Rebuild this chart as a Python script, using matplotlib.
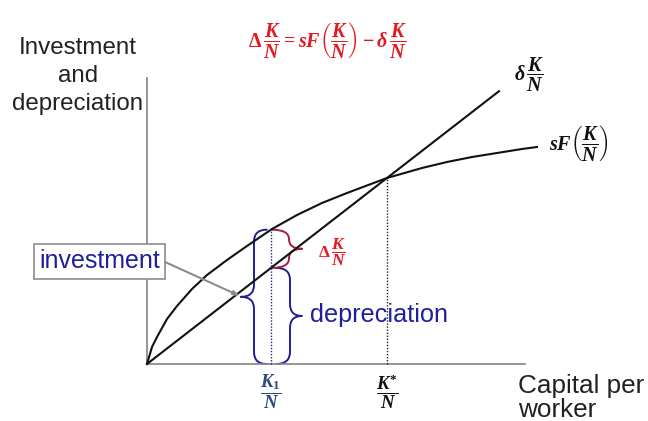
import numpy as np
import matplotlib
matplotlib.use('Agg')
import matplotlib.pyplot as plt
from matplotlib.path import Path
from matplotlib.patches import PathPatch

plt.rcParams['font.family'] = ['Liberation Sans', 'DejaVu Sans']
plt.rcParams['mathtext.fontset'] = 'custom'
plt.rcParams['mathtext.it'] = 'Liberation Serif:italic:bold'
plt.rcParams['mathtext.rm'] = 'Liberation Serif:bold'
plt.rcParams['mathtext.bf'] = 'Liberation Serif:bold'

# investment curve sF(K/N)
capital = [0, 0.125, 0.25, 0.5, 0.75, 1.125, 1.5, 2.0, 2.5, 3.125, 3.75,
           4.375, 5.0, 5.625, 6.0, 6.875, 7.5, 8.125, 8.75, 9.375, 9.75]
investment = [0, 0.425, 0.675, 1.125, 1.45, 1.875, 2.225, 2.6, 2.95, 3.375,
              3.725, 4.025, 4.275, 4.51, 4.65, 4.9, 5.05, 5.175, 5.275,
              5.375, 5.425]

# depreciation line delta*K/N
dep_capital = [0, 8.8]
depreciation = [0, 6.82]

k1 = 3.1
k_star = 6.0
axis_x_max = 9.45
axis_y_max = 7.15

RED = '#e3191f'
DARK_RED = '#a3203c'
NAVY = '#1f1f9c'
GRAY = '#8c8c8c'


def brace(ax, x, y0, y1, depth, tip, color, lw=1.4):
    # curly brace: vertical body at x, ends hook by depth, point sticks out by tip
    r = min(0.3, (y1 - y0) / 4)
    ym = (y0 + y1) / 2
    verts = [(x + depth, y1), (x, y1), (x, y1 - r),
             (x, ym + r), (x, ym), (x + tip, ym),
             (x, ym), (x, ym - r),
             (x, y0 + r), (x, y0), (x + depth, y0)]
    codes = [Path.MOVETO, Path.CURVE3, Path.CURVE3,
             Path.LINETO, Path.CURVE3, Path.CURVE3,
             Path.CURVE3, Path.CURVE3,
             Path.LINETO, Path.CURVE3, Path.CURVE3]
    ax.add_patch(PathPatch(Path(verts, codes), fill=False, edgecolor=color,
                           lw=lw, capstyle='round', joinstyle='round'))


fig = plt.figure(figsize=(6.48, 4.21), dpi=100)
ax = fig.add_axes([0, 0, 1, 1])
ax.set_xlim(-3.675, 12.525)
ax.set_ylim(-1.425, 9.1)
ax.axis('off')

# axes
ax.plot([0, 0], [0, axis_y_max], color=GRAY, lw=1.3)
ax.plot([0, axis_x_max], [0, 0], color=GRAY, lw=1.3)

# curves
ax.plot(capital, investment, color='#111111', lw=1.5, solid_joinstyle='round')
ax.plot(dep_capital, depreciation, color='#111111', lw=1.5)

inv_k1 = np.interp(k1, capital, investment)
dep_k1 = np.interp(k1, dep_capital, depreciation)
inv_star = np.interp(k_star, capital, investment)

ax.plot([k1, k1], [0, inv_k1], color=NAVY, lw=1, ls=(0, (1, 1.2)))
ax.plot([k_star, k_star], [0, inv_star], color='#222222', lw=1, ls=(0, (1, 1.2)))

# braces
brace(ax, k1 - 0.425, 0, inv_k1, 0.32, -0.33, NAVY)
brace(ax, k1 + 0.475, 0, dep_k1, -0.35, 0.3, NAVY)
brace(ax, k1 + 0.45, dep_k1, inv_k1, -0.42, 0.33, DARK_RED)

# labels
ax.text(-1.725, 7.2, 'Investment\nand\ndepreciation', ha='center', va='center',
        fontsize=17.4, color='#222222', linespacing=1.35)
ax.text(9.275, -0.85, 'Capital per\nworker', ha='left', va='center',
        fontsize=18.8, color='#222222', linespacing=1.0)

ax.text(4.525, 8.1,
        r'$\Delta\,\dfrac{K}{N} = sF\left(\dfrac{K}{N}\right) - \delta\,\dfrac{K}{N}$',
        ha='center', va='center', fontsize=14.5, color=RED)
ax.text(9.175, 7.225, r'$\delta\,\dfrac{K}{N}$', ha='left', va='center',
        fontsize=14.5, color='#111111')
ax.text(10.05, 5.525, r'$sF\left(\dfrac{K}{N}\right)$', ha='left', va='center',
        fontsize=14.5, color='#111111')
ax.text(4.275, 2.8, r'$\Delta\,\dfrac{K}{N}$', ha='left', va='center',
        fontsize=12.5, color=RED)
ax.text(k1, -0.7, r'$\dfrac{K_1}{N}$', ha='center', va='center',
        fontsize=13.5, color='#2b4a7a')
ax.text(k_star, -0.7, r'$\dfrac{K^{*}}{N}$', ha='center', va='center',
        fontsize=13.5, color='#111111')

ax.text(4.075, 1.225, 'depreciation', ha='left', va='center',
        fontsize=18.2, color=NAVY)

ax.text(-1.19, 2.575, 'investment', ha='center', va='center',
        fontsize=18, color=NAVY,
        bbox=dict(boxstyle='square,pad=0.22', fc='white', ec=GRAY, lw=1.2))
ax.annotate('', xy=(k1 - 0.775, 1.7), xytext=(0.45, 2.55),
            arrowprops=dict(arrowstyle='-|>,head_length=0.35,head_width=0.12',
                            color=GRAY, lw=1.5, shrinkA=0, shrinkB=0))

fig.savefig('out.png', dpi=100)
